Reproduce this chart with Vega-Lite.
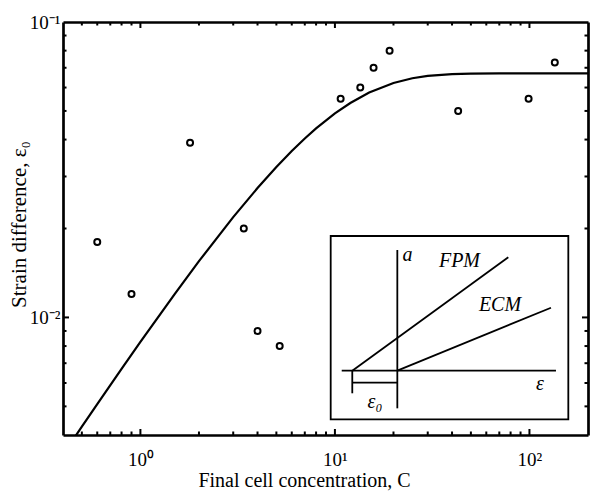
{
  "$schema": "https://vega.github.io/schema/vega-lite/v6.json",
  "width": 525,
  "height": 413,
  "autosize": "none",
  "padding": {"left": 63, "top": 22, "right": 13, "bottom": 60},
  "background": "white",
  "config": {
    "view": {"stroke": null},
    "font": "Liberation Serif",
    "axis": {"zindex": 1, "grid": false, "ticks": false, "domainColor": "black", "domainWidth": 2.7, "labelColor": "black", "titleColor": "black", "labelFont": "Liberation Serif", "titleFont": "Liberation Serif", "titleFontWeight": "normal"}
  },
  "datasets": {
    "obs": [
      {"C": 0.6, "eps": 0.018},
      {"C": 0.9, "eps": 0.012},
      {"C": 1.8, "eps": 0.039},
      {"C": 3.4, "eps": 0.020},
      {"C": 4.0, "eps": 0.009},
      {"C": 5.2, "eps": 0.008},
      {"C": 10.7, "eps": 0.055},
      {"C": 13.5, "eps": 0.060},
      {"C": 15.8, "eps": 0.070},
      {"C": 19.1, "eps": 0.080},
      {"C": 43, "eps": 0.050},
      {"C": 99, "eps": 0.055},
      {"C": 135, "eps": 0.073}
    ],
    "fit": [
      {"C": 0.46, "eps": 0.003935},
      {"C": 0.5, "eps": 0.004266},
      {"C": 0.6, "eps": 0.005086},
      {"C": 0.8, "eps": 0.006694},
      {"C": 1, "eps": 0.008260},
      {"C": 1.5, "eps": 0.012000},
      {"C": 2, "eps": 0.015502},
      {"C": 3, "eps": 0.021850},
      {"C": 4, "eps": 0.027415},
      {"C": 5, "eps": 0.032298},
      {"C": 6, "eps": 0.036575},
      {"C": 7, "eps": 0.040326},
      {"C": 8, "eps": 0.043616},
      {"C": 10, "eps": 0.049027},
      {"C": 12, "eps": 0.053186},
      {"C": 15, "eps": 0.057691},
      {"C": 20, "eps": 0.062179},
      {"C": 25, "eps": 0.064502},
      {"C": 30, "eps": 0.065707},
      {"C": 40, "eps": 0.066653},
      {"C": 50, "eps": 0.066907},
      {"C": 70, "eps": 0.066993},
      {"C": 100, "eps": 0.067},
      {"C": 200, "eps": 0.067}
    ],
    "xmaj": [{"v": 1}, {"v": 10}, {"v": 100}],
    "xmin": [{"v": 0.5}, {"v": 0.6}, {"v": 0.7}, {"v": 0.8}, {"v": 0.9}, {"v": 2}, {"v": 3}, {"v": 4}, {"v": 5}, {"v": 6}, {"v": 7}, {"v": 8}, {"v": 9}, {"v": 20}, {"v": 30}, {"v": 40}, {"v": 50}, {"v": 60}, {"v": 70}, {"v": 80}, {"v": 90}],
    "ymaj": [{"v": 0.01}],
    "ymin": [{"v": 0.005}, {"v": 0.006}, {"v": 0.007}, {"v": 0.008}, {"v": 0.009}, {"v": 0.02}, {"v": 0.03}, {"v": 0.04}, {"v": 0.05}, {"v": 0.06}, {"v": 0.07}, {"v": 0.08}, {"v": 0.09}],
    "box": [{"x1": 50.99, "x2": 96.25, "y1": 3.80, "y2": 48.18}],
    "segs": [
      {"x1": 53.09, "y1": 15.57, "x2": 93.90, "y2": 15.57},
      {"x1": 63.68, "y1": 6.46, "x2": 63.68, "y2": 44.79},
      {"x1": 55.10, "y1": 15.57, "x2": 84.82, "y2": 43.03},
      {"x1": 63.68, "y1": 15.57, "x2": 92.95, "y2": 30.82},
      {"x1": 55.10, "y1": 15.57, "x2": 55.10, "y2": 10.10},
      {"x1": 55.10, "y1": 12.66, "x2": 63.68, "y2": 12.66}
    ],
    "labels": [
      {"x": 65.62, "y": 43.58, "t": "a"},
      {"x": 75.52, "y": 42.06, "t": "FPM"},
      {"x": 83.24, "y": 31.48, "t": "ECM"},
      {"x": 90.86, "y": 12.35, "t": "ε"},
      {"x": 59.43, "y": 7.99, "t": "ε₀"}
    ]
  },
  "layer": [
    {
      "data": {"name": "obs"},
      "mark": {"type": "point", "shape": "circle", "filled": false, "size": 36, "strokeWidth": 2, "color": "black", "opacity": 1},
      "encoding": {
        "x": {"field": "C", "type": "quantitative", "scale": {"type": "log", "domain": [0.4, 200], "nice": false},
          "axis": {"orient": "bottom", "values": [1, 10, 100], "labelFontSize": 19, "labelPadding": 30, "labelBaseline": "alphabetic",
            "labelExpr": "datum.value == 1 ? '10⁰' : datum.value == 10 ? '10¹' : '10²'",
            "title": "Final cell concentration, C", "titleFont": "Liberation Serif", "titleFontSize": 20, "titleX": 241, "titleY": 51, "titleBaseline": "alphabetic", "titleAlign": "center"}},
        "y": {"field": "eps", "type": "quantitative", "scale": {"type": "log", "domain": [0.004, 0.1], "nice": false},
          "axis": {"orient": "left", "values": [0.01, 0.1], "labelFontSize": 19, "labelPadding": 3, "labelBaseline": "middle",
            "labelExpr": "datum.value > 0.05 ? '10⁻¹' : '10⁻²'",
            "title": "Strain difference, ε₀", "titleFont": "Liberation Serif", "titleFontSize": 21, "titleX": -38, "titleY": 202, "titleBaseline": "alphabetic", "titleAlign": "center"}}
      }
    },
    {
      "data": {"name": "fit"},
      "mark": {"type": "line", "color": "black", "strokeWidth": 2.2, "clip": true},
      "encoding": {
        "x": {"field": "C", "type": "quantitative", "scale": {"type": "log", "domain": [0.4, 200], "nice": false},
          "axis": {"orient": "top", "values": [1, 10, 100], "labels": false, "title": null}},
        "y": {"field": "eps", "type": "quantitative", "scale": {"type": "log", "domain": [0.004, 0.1], "nice": false},
          "axis": {"orient": "right", "values": [0.01, 0.1], "labels": false, "title": null}}
      }
    },
    {
      "data": {"name": "xmaj"},
      "mark": {"type": "tick", "orient": "vertical", "size": 6, "thickness": 2, "yOffset": -3, "color": "black", "opacity": 1},
      "encoding": {
        "x": {"field": "v", "type": "quantitative", "scale": {"type": "log", "domain": [0.4, 200], "nice": false}, "axis": null},
        "y": {"datum": 0.004, "type": "quantitative", "scale": {"type": "log", "domain": [0.004, 0.1], "nice": false}, "axis": null}
      }
    },
    {
      "data": {"name": "xmaj"},
      "mark": {"type": "tick", "orient": "vertical", "size": 6, "thickness": 2, "yOffset": 3, "color": "black", "opacity": 1},
      "encoding": {
        "x": {"field": "v", "type": "quantitative", "scale": {"type": "log", "domain": [0.4, 200], "nice": false}, "axis": null},
        "y": {"datum": 0.1, "type": "quantitative", "scale": {"type": "log", "domain": [0.004, 0.1], "nice": false}, "axis": null}
      }
    },
    {
      "data": {"name": "xmin"},
      "mark": {"type": "tick", "orient": "vertical", "size": 3.5, "thickness": 2, "yOffset": -1.75, "color": "black", "opacity": 1},
      "encoding": {
        "x": {"field": "v", "type": "quantitative", "scale": {"type": "log", "domain": [0.4, 200], "nice": false}, "axis": null},
        "y": {"datum": 0.004, "type": "quantitative", "scale": {"type": "log", "domain": [0.004, 0.1], "nice": false}, "axis": null}
      }
    },
    {
      "data": {"name": "xmin"},
      "mark": {"type": "tick", "orient": "vertical", "size": 3.5, "thickness": 2, "yOffset": 1.75, "color": "black", "opacity": 1},
      "encoding": {
        "x": {"field": "v", "type": "quantitative", "scale": {"type": "log", "domain": [0.4, 200], "nice": false}, "axis": null},
        "y": {"datum": 0.1, "type": "quantitative", "scale": {"type": "log", "domain": [0.004, 0.1], "nice": false}, "axis": null}
      }
    },
    {
      "data": {"name": "ymaj"},
      "mark": {"type": "tick", "orient": "horizontal", "size": 6, "thickness": 2, "xOffset": 3, "color": "black", "opacity": 1},
      "encoding": {
        "y": {"field": "v", "type": "quantitative", "scale": {"type": "log", "domain": [0.004, 0.1], "nice": false}, "axis": null},
        "x": {"datum": 0.4, "type": "quantitative", "scale": {"type": "log", "domain": [0.4, 200], "nice": false}, "axis": null}
      }
    },
    {
      "data": {"name": "ymaj"},
      "mark": {"type": "tick", "orient": "horizontal", "size": 6, "thickness": 2, "xOffset": -3, "color": "black", "opacity": 1},
      "encoding": {
        "y": {"field": "v", "type": "quantitative", "scale": {"type": "log", "domain": [0.004, 0.1], "nice": false}, "axis": null},
        "x": {"datum": 200, "type": "quantitative", "scale": {"type": "log", "domain": [0.4, 200], "nice": false}, "axis": null}
      }
    },
    {
      "data": {"name": "ymin"},
      "mark": {"type": "tick", "orient": "horizontal", "size": 3.5, "thickness": 2, "xOffset": 1.75, "color": "black", "opacity": 1},
      "encoding": {
        "y": {"field": "v", "type": "quantitative", "scale": {"type": "log", "domain": [0.004, 0.1], "nice": false}, "axis": null},
        "x": {"datum": 0.4, "type": "quantitative", "scale": {"type": "log", "domain": [0.4, 200], "nice": false}, "axis": null}
      }
    },
    {
      "data": {"name": "ymin"},
      "mark": {"type": "tick", "orient": "horizontal", "size": 3.5, "thickness": 2, "xOffset": -1.75, "color": "black", "opacity": 1},
      "encoding": {
        "y": {"field": "v", "type": "quantitative", "scale": {"type": "log", "domain": [0.004, 0.1], "nice": false}, "axis": null},
        "x": {"datum": 200, "type": "quantitative", "scale": {"type": "log", "domain": [0.4, 200], "nice": false}, "axis": null}
      }
    },
    {
      "data": {"name": "box"},
      "mark": {"type": "rect", "fill": "white", "stroke": "black", "strokeWidth": 1.8},
      "encoding": {
        "x": {"field": "x1", "type": "quantitative", "scale": {"domain": [0, 100], "nice": false, "zero": false}, "axis": null},
        "x2": {"field": "x2"},
        "y": {"field": "y1", "type": "quantitative", "scale": {"domain": [0, 100], "nice": false, "zero": false}, "axis": null},
        "y2": {"field": "y2"}
      }
    },
    {
      "data": {"name": "segs"},
      "mark": {"type": "rule", "color": "black", "strokeWidth": 1.8},
      "encoding": {
        "x": {"field": "x1", "type": "quantitative", "scale": {"domain": [0, 100], "nice": false, "zero": false}, "axis": null},
        "x2": {"field": "x2"},
        "y": {"field": "y1", "type": "quantitative", "scale": {"domain": [0, 100], "nice": false, "zero": false}, "axis": null},
        "y2": {"field": "y2"}
      }
    },
    {
      "data": {"name": "labels"},
      "mark": {"type": "text", "font": "Liberation Serif", "fontStyle": "italic", "fontSize": 20, "align": "center", "baseline": "middle", "color": "black"},
      "encoding": {
        "x": {"field": "x", "type": "quantitative", "scale": {"domain": [0, 100], "nice": false, "zero": false}, "axis": null},
        "y": {"field": "y", "type": "quantitative", "scale": {"domain": [0, 100], "nice": false, "zero": false}, "axis": null},
        "text": {"field": "t"}
      }
    }
  ],
  "resolve": {"scale": {"x": "independent", "y": "independent"}, "axis": {"x": "independent", "y": "independent"}}
}
